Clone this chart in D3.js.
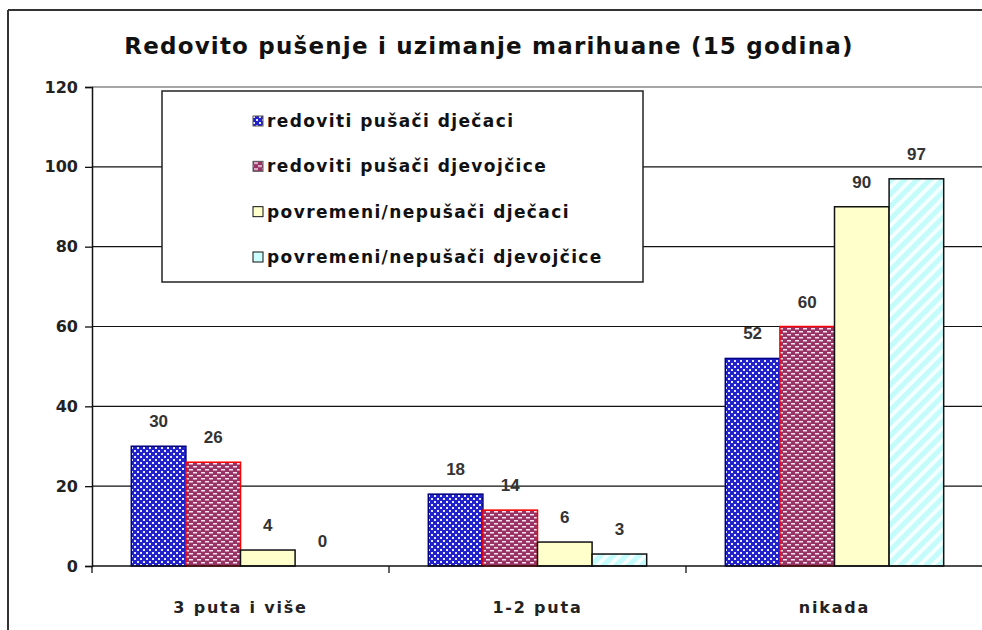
<!DOCTYPE html>
<html>
<head>
<meta charset="utf-8">
<script src="https://cdn.jsdelivr.net/npm/d3@7"></script>
<style>
  body { margin: 0; background: #fff; }
  svg { display: block; }
</style>
</head>
<body>
<div class="chartBox"></div>
<script>
// podaci
var title = "Redovito pušenje i uzimanje marihuane (15 godina)";
var categories = ["3 puta i više", "1-2 puta", "nikada"];
var seriesNames = ["redoviti pušači dječaci", "redoviti pušači djevojčice",
                   "povremeni/nepušači dječaci", "povremeni/nepušači djevojčice"];
var boysRegular = [30, 18, 52];
var girlsRegular = [26, 14, 60];
var boysOccasional = [4, 6, 90];
var girlsOccasional = [0, 3, 97];
var yTicks = [0, 20, 40, 60, 80, 100, 120];

var seriesValues = [boysRegular, girlsRegular, boysOccasional, girlsOccasional];
var fills = ["url(#patBlue)", "url(#patRed)", "#ffffcc", "url(#patCyan)"];
var legendFills = ["url(#patBlue)", "url(#patRed)", "#ffffcc", "#ccffff"];
var strokes = ["#000080", "#ff0000", "#111", "#111"];

var W = 982, H = 630;
var plotLeft = 92, plotRight = 983, plotTop = 87, plotBottom = 566;

var svg = d3.select(".chartBox").append("svg")
    .attr("width", W)
    .attr("height", H);

// uzorci za stupce
var defs = svg.append("defs");
var pb = defs.append("pattern").attr("id", "patBlue")
    .attr("patternUnits", "userSpaceOnUse").attr("width", 6).attr("height", 6);
pb.append("rect").attr("width", 6).attr("height", 6).attr("fill", "#2222cc");
pb.append("rect").attr("x", 0).attr("y", 0).attr("width", 2).attr("height", 2).attr("fill", "#e8e8ff");
pb.append("rect").attr("x", 3).attr("y", 3).attr("width", 2).attr("height", 2).attr("fill", "#e8e8ff");

var pr = defs.append("pattern").attr("id", "patRed")
    .attr("patternUnits", "userSpaceOnUse").attr("width", 8).attr("height", 6);
pr.append("rect").attr("width", 8).attr("height", 6).attr("fill", "#993366");
pr.append("rect").attr("x", 1).attr("y", 1).attr("width", 4).attr("height", 1.5).attr("fill", "#f4e4ee");
pr.append("rect").attr("x", 5).attr("y", 4).attr("width", 3).attr("height", 1.5).attr("fill", "#f4e4ee");
pr.append("rect").attr("x", 0).attr("y", 4).attr("width", 1).attr("height", 1.5).attr("fill", "#f4e4ee");

var pc = defs.append("pattern").attr("id", "patCyan")
    .attr("patternUnits", "userSpaceOnUse").attr("width", 9).attr("height", 9)
    .attr("patternTransform", "rotate(45)");
pc.append("rect").attr("width", 9).attr("height", 9).attr("fill", "#f4ffff");
pc.append("rect").attr("width", 5).attr("height", 9).attr("fill", "#c4fbfb");

// okvir grafikona
svg.append("line").attr("x1", 8).attr("x2", W).attr("y1", 10).attr("y2", 10)
    .attr("stroke", "#333").attr("stroke-width", 2);
svg.append("line").attr("x1", 8).attr("x2", 8).attr("y1", 10).attr("y2", H)
    .attr("stroke", "#333").attr("stroke-width", 2);

// naslov
svg.append("text")
    .attr("x", 489).attr("y", 54)
    .attr("text-anchor", "middle")
    .attr("font-family", "DejaVu Sans")
    .attr("font-weight", "bold")
    .attr("font-size", 23)
    .attr("letter-spacing", 1.2)
    .attr("fill", "#111")
    .text(title);

// skale
var y = d3.scaleLinear().domain([0, 120]).range([plotBottom, plotTop]);
var x0 = d3.scaleBand().domain(categories).range([plotLeft, plotRight]).padding(0);
var x1 = d3.scaleBand().domain(d3.range(seriesNames.length))
    .range([0, x0.bandwidth()]).paddingInner(0).paddingOuter(0.72);

// mreža
svg.append("g").selectAll("line")
    .data(yTicks.filter(function(t) { return t > 0; }))
    .enter().append("line")
    .attr("x1", plotLeft).attr("x2", W)
    .attr("y1", function(d) { return y(d); })
    .attr("y2", function(d) { return y(d); })
    .attr("stroke", function(d) { return d === 120 ? "#888" : "#111"; })
    .attr("stroke-width", function(d) { return d === 120 ? 1.5 : 1.2; });

// y os
var yAxis = svg.append("g")
    .attr("transform", "translate(" + plotLeft + ",0)")
    .call(d3.axisLeft(y).tickValues(yTicks).tickSize(7).tickPadding(7));
yAxis.select(".domain").attr("stroke", "#111").attr("stroke-width", 1.5);
yAxis.selectAll(".tick line").attr("stroke", "#111").attr("stroke-width", 1.3);
yAxis.selectAll("text")
    .attr("font-family", "DejaVu Sans")
    .attr("font-weight", "bold")
    .attr("font-size", 16)
    .attr("fill", "#222");

// stupci
var groups = svg.append("g").selectAll("g")
    .data(categories)
    .enter().append("g")
    .attr("transform", function(d) { return "translate(" + x0(d) + ",0)"; });

groups.selectAll("rect")
    .data(function(d, ci) {
        return seriesValues.map(function(vals, si) { return { s: si, v: vals[ci] }; });
    })
    .enter().append("rect")
    .attr("x", function(d) { return x1(d.s); })
    .attr("y", function(d) { return y(d.v); })
    .attr("width", x1.bandwidth())
    .attr("height", function(d) { return y(0) - y(d.v); })
    .attr("fill", function(d) { return fills[d.s]; })
    .attr("stroke", function(d) { return d.v > 0 ? strokes[d.s] : "none"; })
    .attr("stroke-width", 1.5);

// oznake vrijednosti
groups.selectAll("text")
    .data(function(d, ci) {
        return seriesValues.map(function(vals, si) { return { s: si, v: vals[ci] }; });
    })
    .enter().append("text")
    .attr("x", function(d) { return x1(d.s) + x1.bandwidth() / 2; })
    .attr("y", function(d) { return y(d.v) - 19; })
    .attr("text-anchor", "middle")
    .attr("font-family", "Liberation Sans")
    .attr("font-weight", "bold")
    .attr("font-size", 17)
    .attr("fill", "#333")
    .text(function(d) { return d.v; });

// x os
var xAxis = svg.append("g")
    .attr("transform", "translate(0," + plotBottom + ")");
xAxis.append("line").attr("x1", plotLeft).attr("x2", W)
    .attr("stroke", "#111").attr("stroke-width", 1.5);
xAxis.selectAll("line.tk")
    .data(categories.map(function(c) { return x0(c); }).concat([plotRight]))
    .enter().append("line")
    .attr("class", "tk")
    .attr("x1", function(d) { return d; }).attr("x2", function(d) { return d; })
    .attr("y1", 0).attr("y2", 7)
    .attr("stroke", "#111").attr("stroke-width", 1.3);
xAxis.selectAll("text")
    .data(categories)
    .enter().append("text")
    .attr("x", function(d) { return x0(d) + x0.bandwidth() / 2; })
    .attr("y", 47)
    .attr("text-anchor", "middle")
    .attr("font-family", "DejaVu Sans")
    .attr("font-weight", "bold")
    .attr("font-size", 16)
    .attr("letter-spacing", 1.8)
    .attr("fill", "#222")
    .text(function(d) { return d; });

// legenda
var legend = svg.append("g");
legend.append("rect")
    .attr("x", 162).attr("y", 91)
    .attr("width", 481).attr("height", 191)
    .attr("fill", "#fff")
    .attr("stroke", "#222").attr("stroke-width", 1.5);
var rowY = d3.scalePoint().domain(d3.range(seriesNames.length)).range([122, 258]);
var item = legend.selectAll("g.item")
    .data(seriesNames)
    .enter().append("g")
    .attr("class", "item")
    .attr("transform", function(d, i) { return "translate(253," + rowY(i) + ")"; });
item.append("rect")
    .attr("x", 0).attr("y", -6)
    .attr("width", 10).attr("height", 10)
    .attr("fill", function(d, i) { return legendFills[i]; })
    .attr("stroke", function(d, i) { return i < 2 ? "#555" : "#111"; })
    .attr("stroke-width", 1);
item.append("text")
    .attr("x", 14).attr("y", 5)
    .attr("font-family", "DejaVu Sans")
    .attr("font-weight", "bold")
    .attr("font-size", 17)
    .attr("letter-spacing", 1.4)
    .attr("fill", "#111")
    .text(function(d) { return d; });
</script>
</body>
</html>
